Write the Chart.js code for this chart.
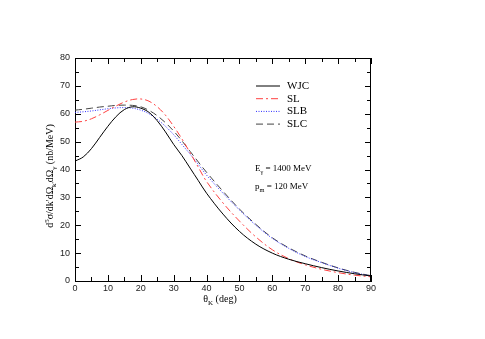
<!DOCTYPE html>
<html>
<head>
<meta charset="utf-8">
<script src="https://cdn.jsdelivr.net/npm/chart.js@4"></script>
<style>
  body { margin: 0; background: #fff; }
  canvas { display: block; }
</style>
</head>
<body>
<canvas id="myCanvas" width="485" height="339"></canvas>
<script>
// kaon angle (deg) and the four model curves
var theta = [0, 2.5, 5, 7.5, 10, 12.5, 15, 17.5, 20, 22.5, 25, 27.5, 30, 32.5, 35, 37.5, 40, 45, 50, 55, 60, 65, 70, 75, 80, 85, 90];
var wjc = [43, 44.5, 47.5, 51.5, 55.5, 59, 61.5, 62.5, 62, 60.5, 57.5, 53.5, 49, 45, 40.5, 36, 31.5, 24, 17.8, 13.2, 10, 7.8, 6.2, 4.8, 3.6, 2.6, 1.8];
var sl  = [57, 57.3, 58.2, 59.6, 61.2, 62.8, 64.2, 65.1, 65.3, 64.5, 62.5, 59.5, 55.5, 51, 46, 40.8, 35.7, 28, 21.5, 15.8, 11.2, 8, 5.8, 4.2, 3, 2.1, 1.5];
var slb = [60.5, 60.7, 61, 61.4, 61.8, 62.1, 62.2, 62, 61.3, 60, 58, 55.5, 52.5, 49, 45.5, 41.8, 38, 31.5, 25.5, 20, 15.3, 11.7, 8.8, 6.6, 4.6, 3, 1.8];
var slc = [61.3, 61.6, 62, 62.4, 62.7, 63, 63.1, 63, 62.5, 61.2, 59.3, 56.8, 53.8, 50.3, 46.5, 42.7, 39, 32.2, 25.8, 20.3, 15.5, 11.9, 9, 6.7, 4.7, 3.1, 1.9];

var seriesNames = ['WJC', 'SL', 'SLB', 'SLC'];
var xTicks = [0, 10, 20, 30, 40, 50, 60, 70, 80, 90];
var yTicks = [0, 10, 20, 30, 40, 50, 60, 70, 80];

function pts(ys){
	return theta.map(function(t, i){ return {x: t, y: ys[i]}; });
}

var styles = [
	{color: '#000000', dash: []},
	{color: '#ff4040', dash: [7, 3, 2, 3]},
	{color: '#3030ff', dash: [1, 1.5]},
	{color: '#444444', dash: [7, 4]}
];

var allData = [wjc, sl, slb, slc];
var datasets = allData.map(function(d, i){
	return {
		label: seriesNames[i],
		data: pts(d),
		borderColor: styles[i].color,
		borderDash: styles[i].dash,
		borderWidth: 1,
		pointRadius: 0,
		fill: false,
		tension: 0.35
	};
});

// draw text pieces with sub/superscripts
function richText(ctx, parts, x, y, size, align){
	var w = 0;
	parts.forEach(function(p){
		ctx.font = (p.s ? size * 0.7 : size) + 'px "Liberation Serif"';
		w += ctx.measureText(p.t).width;
	});
	var cx = align === 'center' ? x - w / 2 : x;
	parts.forEach(function(p){
		var fs = p.s ? size * 0.7 : size;
		ctx.font = fs + 'px "Liberation Serif"';
		var dy = p.s === 'sub' ? size * 0.3 : (p.s === 'sup' ? -size * 0.4 : 0);
		ctx.fillText(p.t, cx, y + dy);
		cx += ctx.measureText(p.t).width;
	});
}

var decor = {
	id: 'decor',
	afterDraw: function(chart){
		var ctx = chart.ctx;
		var ca = chart.chartArea;
		var xs = chart.scales.x, ys = chart.scales.y;
		ctx.save();
		ctx.strokeStyle = '#000';
		ctx.lineWidth = 1;
		ctx.setLineDash([]);
		// top and right frame
		ctx.beginPath();
		ctx.moveTo(ca.left, ca.top + 0.5);
		ctx.lineTo(ca.right, ca.top + 0.5);
		ctx.moveTo(ca.right - 0.5, ca.top);
		ctx.lineTo(ca.right - 0.5, ca.bottom);
		ctx.stroke();
		// inward ticks, majors every 10, minors every 5
		ctx.beginPath();
		for (var v = 0; v <= 90; v += 5){
			var px = Math.round(xs.getPixelForValue(v)) + 0.5;
			var len = v % 10 === 0 ? 6 : 4;
			ctx.moveTo(px, ca.bottom); ctx.lineTo(px, ca.bottom - len);
			ctx.moveTo(px, ca.top); ctx.lineTo(px, ca.top + len);
		}
		for (var u = 0; u <= 80; u += 5){
			var py = Math.round(ys.getPixelForValue(u)) + 0.5;
			var l2 = u % 10 === 0 ? 6 : 4;
			ctx.moveTo(ca.left, py); ctx.lineTo(ca.left + l2, py);
			ctx.moveTo(ca.right, py); ctx.lineTo(ca.right - l2, py);
		}
		ctx.stroke();

		// legend
		ctx.fillStyle = '#000';
		ctx.textBaseline = 'middle';
		chart.data.datasets.forEach(function(ds, i){
			var ly = 86 + i * 12.7;
			ctx.strokeStyle = ds.borderColor;
			ctx.setLineDash(ds.borderDash);
			ctx.beginPath();
			ctx.moveTo(256, ly); ctx.lineTo(280, ly);
			ctx.stroke();
			ctx.font = '11px "Liberation Serif"';
			ctx.fillText(ds.label, 287, ly);
		});
		ctx.setLineDash([]);

		// kinematics notes
		ctx.textBaseline = 'alphabetic';
		richText(ctx, [{t: 'E'}, {t: '\u03b3', s: 'sub'}, {t: ' = 1400 MeV'}], 255, 171, 9, 'left');
		richText(ctx, [{t: 'p'}, {t: 'm', s: 'sub'}, {t: ' = 120 MeV'}], 255, 189, 9, 'left');

		// x title
		richText(ctx, [{t: '\u03b8'}, {t: 'K', s: 'sub'}, {t: ' (deg)'}], 220, 302, 10, 'center');

		// y title, rotated
		ctx.translate(53, 176);
		ctx.rotate(-Math.PI / 2);
		richText(ctx, [
			{t: 'd'}, {t: '5', s: 'sup'}, {t: '\u03c3/dk\'d\u03a9'}, {t: 'k\'', s: 'sub'},
			{t: 'd\u03a9'}, {t: '\u03b3', s: 'sub'}, {t: ' (nb/MeV)'}
		], 0, 0, 10, 'center');
		ctx.restore();
	}
};

var tickFont = {family: '"Liberation Sans"', size: 9};

var ctx = document.getElementById('myCanvas').getContext('2d');
var myChart = new Chart(ctx, {
	type: 'line',
	data: { datasets: datasets },
	options: {
		responsive: false,
		animation: false,
		layout: { padding: { left: 44, right: 114, top: 58, bottom: 38 } },
		plugins: {
			legend: { display: false },
			tooltip: { enabled: false }
		},
		scales: {
			x: {
				type: 'linear', min: 0, max: 90,
				afterBuildTicks: function(s){ s.ticks = xTicks.map(function(v){ return {value: v}; }); },
				ticks: { font: tickFont, color: '#222', padding: 2, maxRotation: 0 },
				grid: { drawOnChartArea: false, drawTicks: false },
				border: { color: '#000' },
				afterFit: function(s){ s.height = 20; }
			},
			y: {
				type: 'linear', min: 0, max: 80,
				afterBuildTicks: function(s){ s.ticks = yTicks.map(function(v){ return {value: v}; }); },
				ticks: { font: tickFont, color: '#222', padding: 5 },
				grid: { drawOnChartArea: false, drawTicks: false },
				border: { color: '#000' },
				afterFit: function(s){ s.width = 31; }
			}
		}
	},
	plugins: [decor]
});
</script>
</body>
</html>
